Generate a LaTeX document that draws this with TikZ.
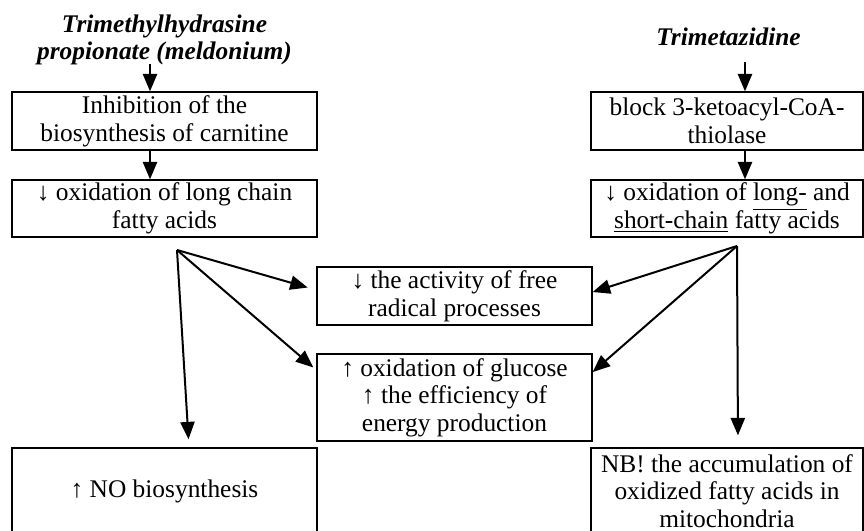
\documentclass[tikz,border=0pt]{standalone}
\usepackage{fontspec}
\setmainfont{Liberation Serif}
\usetikzlibrary{shapes}
\usetikzlibrary{arrows}
\tikzset{
	flownode/.style = {align=center, inner sep=0pt, text centered,
		font=\fontsize{12.7}{13.8}\selectfont},
	box_l/.style = {flownode, rectangle, draw=black, line width=0.75pt,
		minimum width=152.5pt},% left column box
	box_r/.style = {flownode, rectangle, draw=black, line width=0.75pt,
		minimum width=136pt},% right column box
	box_m/.style = {flownode, rectangle, draw=black, line width=0.75pt,
		minimum width=137.5pt},% middle box
	drug_t/.style = {flownode,
		font=\fontsize{12.7}{13.8}\selectfont\bfseries\itshape}% drug name
}

\begin{document}
\begin{tikzpicture}[->,>=triangle 45,line width=1pt,x=0.5pt,y=-0.5pt]
	\useasboundingbox (0,0) rectangle (864,531);
	% drugs
	\node[drug_t] (meld) at (164.5,40) {Trimethylhydrasine\\propionate (meldonium)};
	\node[drug_t] (trim) at (728.5,37) {Trimetazidine};
	% left column
	\node[box_l, minimum height=29pt] (inh) at (164.5,121)
		{Inhibition of the\\biosynthesis of carnitine};
	\node[box_l, minimum height=28.5pt] (oxl) at (164.5,208.5)
		{↓ oxidation of long chain\\fatty acids};
	\node[box_l, minimum height=43pt] (nob) at (164.5,491)
		{↑ NO biosynthesis};
	% right column
	\node[box_r, minimum height=29pt] (blk) at (727,121)
		{block 3-ketoacyl-CoA-\\thiolase};
	\node[box_r, minimum height=28.5pt] (oxs) at (727,208.5)
		{↓ oxidation of \underline{long-} and\\\underline{short-chain} fatty acids};
	\node[box_r, minimum height=43pt] (acc) at (727,491)
		{NB! the accumulation of\\oxidized fatty acids in\\mitochondria};
	% middle
	\node[box_m, minimum height=29pt] (frad) at (454.5,296)
		{↓ the activity of free\\radical processes};
	\node[box_m, minimum height=43.5pt] (gluc) at (454.5,397.5)
		{↑ oxidation of glucose\\↑ the efficiency of\\energy production};
	% arrows
	\coordinate (ml) at (150,64);
	\coordinate (tr) at (745,62);
	\coordinate (lf) at (177,250);
	\coordinate (rf) at (737,246);
	\draw (ml) -- (ml |- inh.north);
	\draw (inh.south -| ml) -- (oxl.north -| ml);
	\draw (tr) -- (tr |- blk.north);
	\draw (blk.south -| tr) -- (oxs.north -| tr);
	\draw[shorten >=4.5pt] (lf) -- ([yshift=3pt]frad.west);
	\draw[shorten >=2pt] (lf) -- ([yshift=13.75pt]gluc.west);
	\draw[shorten >=4pt] (lf) -- ([xshift=12.25pt]nob.north);
	\draw (rf) -- ([yshift=2pt]frad.east);
	\draw (rf) -- ([yshift=12.75pt]gluc.east);
	\draw[shorten >=6pt] (rf) -- ([xshift=5.5pt]acc.north);
\end{tikzpicture}
\end{document}
